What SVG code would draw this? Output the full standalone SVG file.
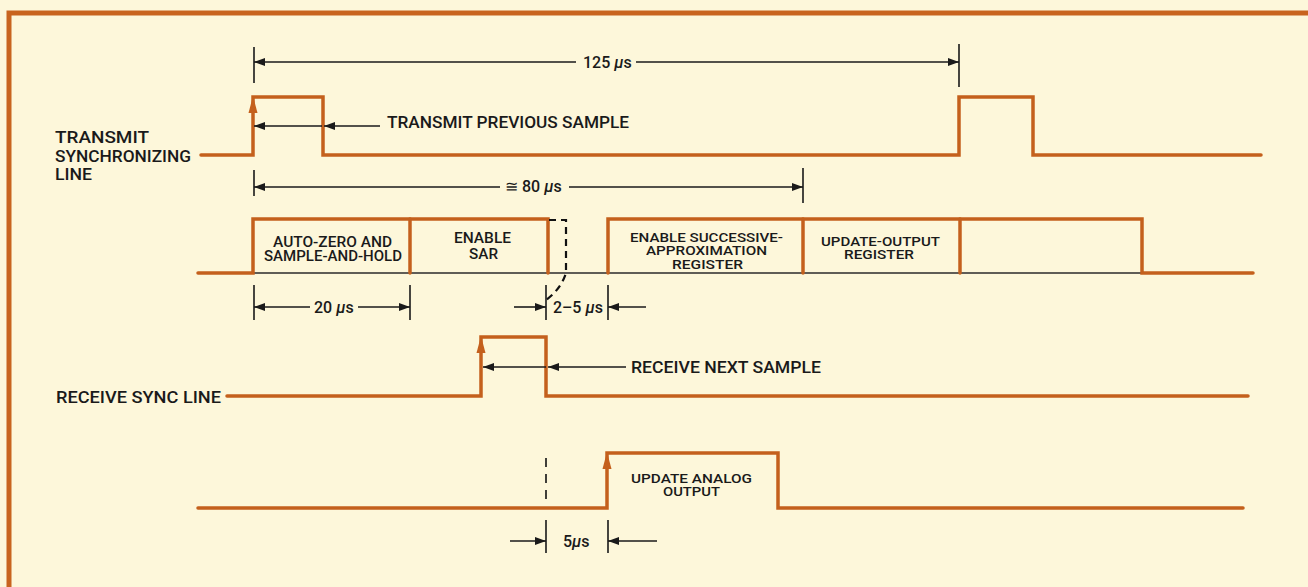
<svg xmlns="http://www.w3.org/2000/svg" width="1308" height="587" viewBox="0 0 1308 587">
<defs>
<marker id="ah" markerUnits="userSpaceOnUse" markerWidth="12" markerHeight="10" refX="11" refY="4" orient="auto">
<path d="M0,0 L11,4 L0,8 z" fill="#1a1a1a"/>
</marker>
<style>
.sig{fill:none;stroke:#c4601c;stroke-width:3.5;stroke-linejoin:miter;stroke-linecap:round}
.thin{fill:none;stroke:#2a2a2a;stroke-width:1.5}
.dim{fill:none;stroke:#1a1a1a;stroke-width:1.6}
.dimA{fill:none;stroke:#1a1a1a;stroke-width:1.6;marker-end:url(#ah)}
.dash{fill:none;stroke:#111;stroke-width:2.2;stroke-dasharray:7,5}
.up{fill:#c4601c}
text{font-family:Roboto,"Liberation Sans",sans-serif;font-weight:500;font-size:16px;fill:#1a1a1a}
.md{font-size:14.5px}
.sm{font-size:13px}
.mu{font-style:italic}
</style>
</defs>
<rect x="0" y="0" width="1308" height="587" fill="#fdf7da"/>
<path d="M9,587 V13 H1308" fill="none" stroke="#c8641e" stroke-width="5"/>

<g id="transmit-sync">
<path class="sig" d="M201,155 H253 V97 H323 V155 H959 V97 H1033 V155 H1261"/>
<path class="up" d="M253,96 L248.5,113 L257.5,113 z"/>
<text x="55" y="143" textLength="94" lengthAdjust="spacingAndGlyphs">TRANSMIT</text>
<text x="55" y="162" textLength="136" lengthAdjust="spacingAndGlyphs">SYNCHRONIZING</text>
<text x="55" y="180" textLength="37" lengthAdjust="spacingAndGlyphs">LINE</text>
<text x="387" y="128" textLength="242" lengthAdjust="spacingAndGlyphs">TRANSMIT PREVIOUS SAMPLE</text>
</g>

<g id="converter-cycle">
<path class="thin" d="M253,273 H1142"/>
<path class="sig" d="M198,273 H253 V219 H548 V273"/>
<path class="sig" d="M410,219 V273"/>
<path class="sig" d="M608,273 V219 H1142 V273 H1253"/>
<path class="sig" d="M803,219 V273"/>
<path class="sig" d="M960,219 V273"/>
<path class="dash" d="M549,220 H566 V273 Q561,289 546,300"/>
<text class="md" x="273" y="246.5" textLength="119" lengthAdjust="spacingAndGlyphs">AUTO-ZERO AND</text>
<text class="md" x="264" y="261" textLength="138" lengthAdjust="spacingAndGlyphs">SAMPLE-AND-HOLD</text>
<text class="md" x="454" y="242.5" textLength="57" lengthAdjust="spacingAndGlyphs">ENABLE</text>
<text class="md" x="469" y="258.5" textLength="29" lengthAdjust="spacingAndGlyphs">SAR</text>
<text class="sm" x="630" y="241.5" textLength="153" lengthAdjust="spacingAndGlyphs">ENABLE SUCCESSIVE-</text>
<text class="sm" x="646" y="255" textLength="121" lengthAdjust="spacingAndGlyphs">APPROXIMATION</text>
<text class="sm" x="672" y="268.5" textLength="71" lengthAdjust="spacingAndGlyphs">REGISTER</text>
<text class="sm" x="821" y="245.5" textLength="119" lengthAdjust="spacingAndGlyphs">UPDATE-OUTPUT</text>
<text class="sm" x="844" y="259" textLength="70" lengthAdjust="spacingAndGlyphs">REGISTER</text>
</g>

<g id="receive-sync">
<path class="sig" d="M227,396 H481 V337 H546 V396 H1248"/>
<path class="up" d="M481,336 L476.5,353 L485.5,353 z"/>
<text x="56" y="403" textLength="165" lengthAdjust="spacingAndGlyphs">RECEIVE SYNC LINE</text>
<text x="631" y="373" textLength="190" lengthAdjust="spacingAndGlyphs">RECEIVE NEXT SAMPLE</text>
</g>

<g id="analog-output">
<path class="sig" d="M198,508 H607 V453 H778 V508 H1243"/>
<path class="up" d="M607,452 L602.5,469 L611.5,469 z"/>
<text class="sm" x="631" y="482.5" textLength="121" lengthAdjust="spacingAndGlyphs">UPDATE ANALOG</text>
<text class="sm" x="663" y="496" textLength="57" lengthAdjust="spacingAndGlyphs">OUTPUT</text>
</g>

<g id="connectors">
<path class="dim" d="M254,47 V83 M959,44 V87"/>
<path class="dimA" d="M576,62 H254"/>
<path class="dimA" d="M636,62 H959"/>
<text x="583" y="68">125 <tspan class="mu">µ</tspan>s</text>
<path class="dimA" d="M322,126 H254"/>
<path class="dimA" d="M380,126 H324"/>
<path class="dim" d="M254,170 V196 M803,168 V203"/>
<path class="dimA" d="M500,187 H254"/>
<path class="dimA" d="M569,187 H803"/>
<text x="505" y="192">≅ 80 <tspan class="mu">µ</tspan>s</text>
<path class="dim" d="M254,285 V320 M410,285 V320"/>
<path class="dimA" d="M310,307 H254"/>
<path class="dimA" d="M358,307 H410"/>
<text x="314" y="313">20 <tspan class="mu">µ</tspan>s</text>
<path class="dim" d="M546,285 V320 M608,285 V320"/>
<path class="dimA" d="M514,307 H546"/>
<path class="dimA" d="M646,307 H608"/>
<text x="553" y="313">2–5 <tspan class="mu">µ</tspan>s</text>
<path class="dimA" d="M546,367 H483"/>
<path class="dimA" d="M626,367 H548"/>
<path class="dash" d="M546,458 V500" style="stroke-width:1.6;stroke-dasharray:9,7"/>
<path class="dim" d="M546,520 V553 M608,520 V553"/>
<path class="dimA" d="M510,541 H546"/>
<path class="dimA" d="M657,541 H608"/>
<text x="563" y="547">5<tspan class="mu">µ</tspan>s</text>
</g>
</svg>
